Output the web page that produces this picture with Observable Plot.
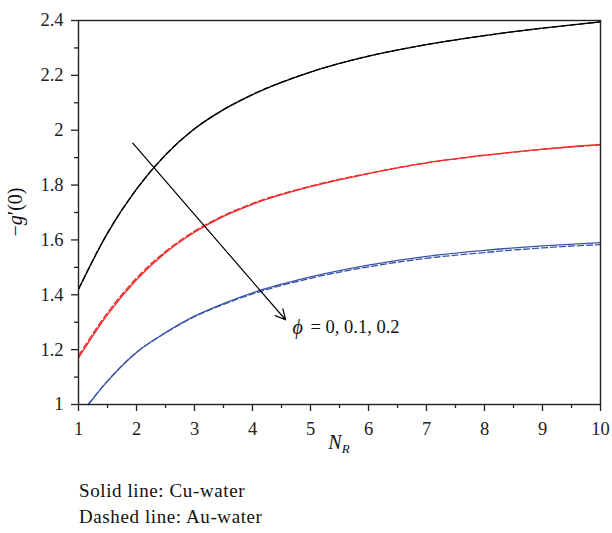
<!DOCTYPE html>
<html><head><meta charset="utf-8">
<script src="https://cdn.jsdelivr.net/npm/d3@7"></script>
<script src="https://cdn.jsdelivr.net/npm/@observablehq/plot@0.6"></script>
<style>
body{margin:0;background:#fff;}
#chart svg{display:block;}
#cap{font-family:"Liberation Serif",serif;font-size:19px;letter-spacing:0.6px;color:#111;margin-left:79px;margin-top:3px;line-height:26px;}
</style>
</head><body>
<div id="chart"></div>
<div id="cap"><div>Solid line: Cu-water</div><div>Dashed line: Au-water</div></div>
<script>
// N_R values
const nR = [1, 1.5, 2, 2.5, 3, 3.5, 4, 5, 6, 7, 8, 9, 10];
const nRBlue = [1.17, 1.5, 2, 2.5, 3, 3.5, 4, 5, 6, 7, 8, 9, 10];
// phi = 0
const cuPhi0 = [1.42, 1.625, 1.785, 1.91, 2.005, 2.075, 2.13, 2.212, 2.27, 2.312, 2.345, 2.372, 2.395];
const auPhi0 = [1.42, 1.625, 1.785, 1.91, 2.005, 2.075, 2.13, 2.212, 2.27, 2.312, 2.345, 2.372, 2.395];
// phi = 0.1
const cuPhi01 = [1.17, 1.328, 1.455, 1.553, 1.628, 1.686, 1.73, 1.794, 1.842, 1.881, 1.909, 1.931, 1.948];
const auPhi01 = [1.178, 1.335, 1.461, 1.558, 1.632, 1.689, 1.733, 1.796, 1.843, 1.881, 1.908, 1.93, 1.947];
// phi = 0.2
const cuPhi02 = [1.0, 1.085, 1.19, 1.262, 1.322, 1.368, 1.407, 1.465, 1.508, 1.54, 1.562, 1.578, 1.59];
const auPhi02 = [1.0, 1.086, 1.19, 1.261, 1.32, 1.365, 1.403, 1.46, 1.502, 1.533, 1.554, 1.571, 1.583];

const yTicks = [1, 1.2, 1.4, 1.6, 1.8, 2, 2.2, 2.4];
const yMinor = [1.1, 1.3, 1.5, 1.7, 1.9, 2.1, 2.3];
const xTicks = [1, 2, 3, 4, 5, 6, 7, 8, 9, 10];
const xMinor = [1.5, 2.5, 3.5, 4.5, 5.5, 6.5, 7.5, 8.5, 9.5];

const arrowPts = [{x1: 1.936, y1: 1.953, x2: 4.569, y2: 1.309}];
const phiLabel = [{x: 4.69, y: 1.281}];

const mk = (xs, ys) => xs.map((x, i) => ({x, y: ys[i]}));
const lineOpts = (stroke, dash) => ({x: "x", y: "y", stroke, strokeWidth: 1.3, curve: "monotone-x", strokeDasharray: dash});

const chart = Plot.plot({
  width: 612, height: 475,
  marginTop: 20, marginBottom: 71, marginLeft: 78, marginRight: 12,
  style: {fontFamily: "Liberation Serif, serif", fontSize: "18px", color: "#222", background: "white"},
  x: {domain: [1, 10]},
  y: {domain: [1, 2.4]},
  marks: [
    Plot.axisY({ticks: yTicks, tickSize: 7, tickPadding: 8, fontSize: 18.5, tickFormat: d => String(Math.round(d * 10) / 10), label: null, strokeWidth: 1.3}),
    Plot.axisY({ticks: yMinor, tickSize: 4, text: null, label: null, strokeWidth: 1.3}),
    Plot.axisX({ticks: xTicks, tickSize: 7, tickPadding: 10, fontSize: 18.5, tickFormat: d => String(d), label: null, strokeWidth: 1.3}),
    Plot.axisX({ticks: xMinor, tickSize: 4, text: null, label: null, strokeWidth: 1.3}),
    Plot.line(mk(nR, auPhi0), lineOpts("#000", "6,3")),
    Plot.line(mk(nR, cuPhi0), lineOpts("#000")),
    Plot.line(mk(nR, auPhi01), lineOpts("#ee2a2a", "6,3")),
    Plot.line(mk(nR, cuPhi01), lineOpts("#ee2a2a")),
    Plot.line(mk(nRBlue, auPhi02), lineOpts("#3a55a8", "6,3")),
    Plot.line(mk(nRBlue, cuPhi02), lineOpts("#3a55a8")),
    Plot.arrow(arrowPts, {x1: "x1", y1: "y1", x2: "x2", y2: "y2", stroke: "#000", strokeWidth: 1.2, headLength: 14, headAngle: 55}),
    Plot.text(phiLabel, {x: "x", y: "y", text: () => "ϕ", textAnchor: "start", fontStyle: "italic", fontSize: 20, fill: "#111"}),
    Plot.text(phiLabel, {x: "x", y: "y", text: () => "= 0, 0.1, 0.2", textAnchor: "start", dx: 18, fontSize: 18.5, fill: "#111"}),
    Plot.frame({stroke: "#222", strokeWidth: 1.4})
  ]
});
document.getElementById("chart").appendChild(chart);

const svg = d3.select(chart);
const sx = chart.scale("x"), sy = chart.scale("y");
const cx = (sx.apply(1) + sx.apply(10)) / 2;
const cy = (sy.apply(1) + sy.apply(2.4)) / 2;
// y label
const yl = svg.append("text")
  .attr("transform", `translate(22,${cy}) rotate(-90)`)
  .attr("text-anchor", "middle")
  .attr("font-family", "Liberation Serif, serif")
  .attr("font-size", 20).attr("fill", "#111");
yl.append("tspan").text("−");
yl.append("tspan").attr("font-style", "italic").text("g");
yl.append("tspan").text("′(0)");
// x label
const xl = svg.append("text")
  .attr("x", cx).attr("y", 449)
  .attr("text-anchor", "middle")
  .attr("font-family", "Liberation Serif, serif")
  .attr("font-size", 20).attr("fill", "#111");
xl.append("tspan").attr("font-style", "italic").text("N");
xl.append("tspan").attr("font-style", "italic").attr("font-size", 13).attr("dy", 4).text("R");
</script>
</body></html>
